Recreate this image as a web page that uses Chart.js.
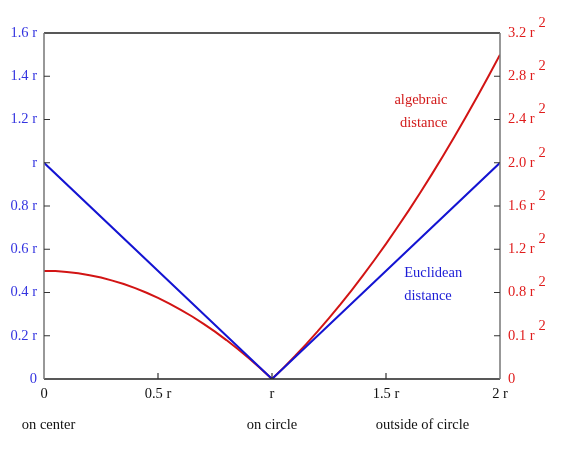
<!DOCTYPE html>
<html>
<head>
<meta charset="utf-8">
<script src="https://cdn.jsdelivr.net/npm/chart.js@4.4.1/dist/chart.umd.min.js"></script>
<style>
  html, body { margin: 0; padding: 0; background: #fff; }
  #wrap { width: 568px; height: 461px; position: relative; }
</style>
</head>
<body>
<div id="wrap"><canvas id="distChart"></canvas></div>
<script>
// distance from center, in units of r
const distX = [0, 0.05, 0.1, 0.15, 0.2, 0.25, 0.3, 0.35, 0.4, 0.45, 0.5,
  0.55, 0.6, 0.65, 0.7, 0.75, 0.8, 0.85, 0.9, 0.95, 1.0,
  1.05, 1.1, 1.15, 1.2, 1.25, 1.3, 1.35, 1.4, 1.45, 1.5,
  1.55, 1.6, 1.65, 1.7, 1.75, 1.8, 1.85, 1.9, 1.95, 2.0];
// algebraic distance (right axis, r^2)
const algebraic = [1.0, 0.998, 0.99, 0.978, 0.96, 0.938, 0.91, 0.878, 0.84, 0.798, 0.75,
  0.698, 0.64, 0.578, 0.51, 0.438, 0.36, 0.278, 0.19, 0.098, 0,
  0.103, 0.21, 0.323, 0.44, 0.563, 0.69, 0.823, 0.96, 1.103, 1.25,
  1.403, 1.56, 1.723, 1.89, 2.063, 2.24, 2.423, 2.61, 2.803, 3.0];
// euclidean distance (left axis, r)
const euclidX = [0, 1, 2];
const euclidean = [1, 0, 1];

const xTickLabels = ["0", "0.5 r", "r", "1.5 r", "2 r"];
const leftTickLabels = ["0", "0.2 r", "0.4 r", "0.6 r", "0.8 r", "r", "1.2 r", "1.4 r", "1.6 r"];
const rightTickLabels = ["0", "0.1 r", "0.8 r", "1.2 r", "1.6 r", "2.0 r", "2.4 r", "2.8 r", "3.2 r"];
const regionLabels = ["on center", "on circle", "outside of circle"];
const regionAt = [0.02, 1.0, 1.66];

const BLUE = "#1414d2";
const RED = "#d21414";
const FONT = "'Liberation Serif', 'Times New Roman', serif";
const FSIZE = 14.5;

const boxPlugin = {
  id: "boxAndNotes",
  afterDraw(chart) {
    const { ctx, chartArea: a, scales } = chart;
    ctx.save();
    // frame
    ctx.lineWidth = 1.5;
    ctx.strokeStyle = "#222";
    ctx.beginPath();
    ctx.moveTo(a.left, a.top); ctx.lineTo(a.right, a.top);
    ctx.moveTo(a.left, a.bottom); ctx.lineTo(a.right, a.bottom);
    ctx.stroke();
    ctx.strokeStyle = "#777";
    ctx.beginPath();
    ctx.moveTo(a.left, a.top); ctx.lineTo(a.left, a.bottom);
    ctx.moveTo(a.right, a.top); ctx.lineTo(a.right, a.bottom);
    ctx.stroke();

    // inner tick marks
    ctx.lineWidth = 1.2;
    ctx.strokeStyle = "#333";
    ctx.beginPath();
    scales.y.ticks.forEach((t, i) => {
      if (i === 0 || i === scales.y.ticks.length - 1) return;
      const py = scales.y.getPixelForValue(t.value);
      ctx.moveTo(a.left, py); ctx.lineTo(a.left + 6, py);
    });
    scales.y2.ticks.forEach((t, i) => {
      if (i === 0 || i === scales.y2.ticks.length - 1) return;
      const py = scales.y2.getPixelForValue(t.value);
      ctx.moveTo(a.right, py); ctx.lineTo(a.right - 6, py);
    });
    scales.x.ticks.forEach((t, i) => {
      if (i === 0 || i === scales.x.ticks.length - 1) return;
      const px = scales.x.getPixelForValue(t.value);
      ctx.moveTo(px, a.bottom); ctx.lineTo(px, a.bottom - 6);
    });
    ctx.stroke();

    // superscript 2 on right ticks
    ctx.font = FSIZE + "px " + FONT;
    ctx.fillStyle = "#e01c1c";
    ctx.textBaseline = "middle";
    ctx.textAlign = "left";
    scales.y2.ticks.forEach((t, i) => {
      if (i === 0) return;
      const py = scales.y2.getPixelForValue(t.value);
      const w = ctx.measureText(rightTickLabels[i]).width;
      ctx.fillText("2", a.right + 8 + w + 4, py - 10);
    });

    // region labels under the x axis
    ctx.fillStyle = "#111";
    ctx.textAlign = "center";
    regionLabels.forEach((txt, i) => {
      ctx.fillText(txt, scales.x.getPixelForValue(regionAt[i]), 425);
    });

    // curve annotations
    ctx.fillStyle = "#d21c1c";
    ctx.textAlign = "right";
    const ax = scales.x.getPixelForValue(1.77);
    ctx.fillText("algebraic", ax, scales.y.getPixelForValue(1.29));
    ctx.fillText("distance", ax, scales.y.getPixelForValue(1.185));
    ctx.fillStyle = "#1c1cd6";
    ctx.textAlign = "left";
    const ex = scales.x.getPixelForValue(1.58);
    ctx.fillText("Euclidean", ex, scales.y.getPixelForValue(0.49));
    ctx.fillText("distance", ex, scales.y.getPixelForValue(0.385));
    ctx.restore();
  },
};

new Chart(document.getElementById("distChart").getContext("2d"), {
  type: "line",
  data: {
    datasets: [
      {
        data: euclidX.map((x, i) => ({ x: x, y: euclidean[i] })),
        borderColor: BLUE,
        borderWidth: 2,
        pointRadius: 0,
        yAxisID: "y",
      },
      {
        data: distX.map((x, i) => ({ x: x, y: algebraic[i] })),
        borderColor: RED,
        borderWidth: 2,
        pointRadius: 0,
        yAxisID: "y2",
      },
    ],
  },
  options: {
    responsive: true,
    maintainAspectRatio: false,
    animation: false,
    layout: { padding: { top: 33, left: 0, right: 0, bottom: 0 } },
    plugins: {
      legend: { display: false },
      tooltip: { enabled: false },
    },
    scales: {
      x: {
        type: "linear",
        min: 0,
        max: 2,
        afterFit: (s) => { s.height = 82; },
        afterBuildTicks: (s) => { s.ticks = [0, 0.5, 1, 1.5, 2].map((v) => ({ value: v })); },
        grid: { display: false, drawTicks: false },
        border: { display: false },
        ticks: {
          padding: 6,
          color: "#111",
          font: { family: FONT, size: FSIZE },
          maxRotation: 0,
          callback: (v) => xTickLabels[Math.round(v * 2)],
        },
      },
      y: {
        position: "left",
        min: 0,
        max: 1.6,
        afterFit: (s) => { s.width = 44; },
        afterBuildTicks: (s) => { s.ticks = leftTickLabels.map((_, i) => ({ value: i * 0.2 })); },
        grid: { display: false, drawTicks: false },
        border: { display: false },
        ticks: {
          padding: 7,
          color: "#3434e0",
          font: { family: FONT, size: FSIZE },
          callback: (v) => leftTickLabels[Math.round(v * 5)],
        },
      },
      y2: {
        position: "right",
        min: 0,
        max: 3.2,
        afterFit: (s) => { s.width = 68; },
        afterBuildTicks: (s) => { s.ticks = rightTickLabels.map((_, i) => ({ value: i * 0.4 })); },
        grid: { display: false, drawTicks: false },
        border: { display: false },
        ticks: {
          padding: 8,
          color: "#e01c1c",
          font: { family: FONT, size: FSIZE },
          callback: (v) => rightTickLabels[Math.round(v * 2.5)],
        },
      },
    },
  },
  plugins: [boxPlugin],
});
</script>
</body>
</html>
